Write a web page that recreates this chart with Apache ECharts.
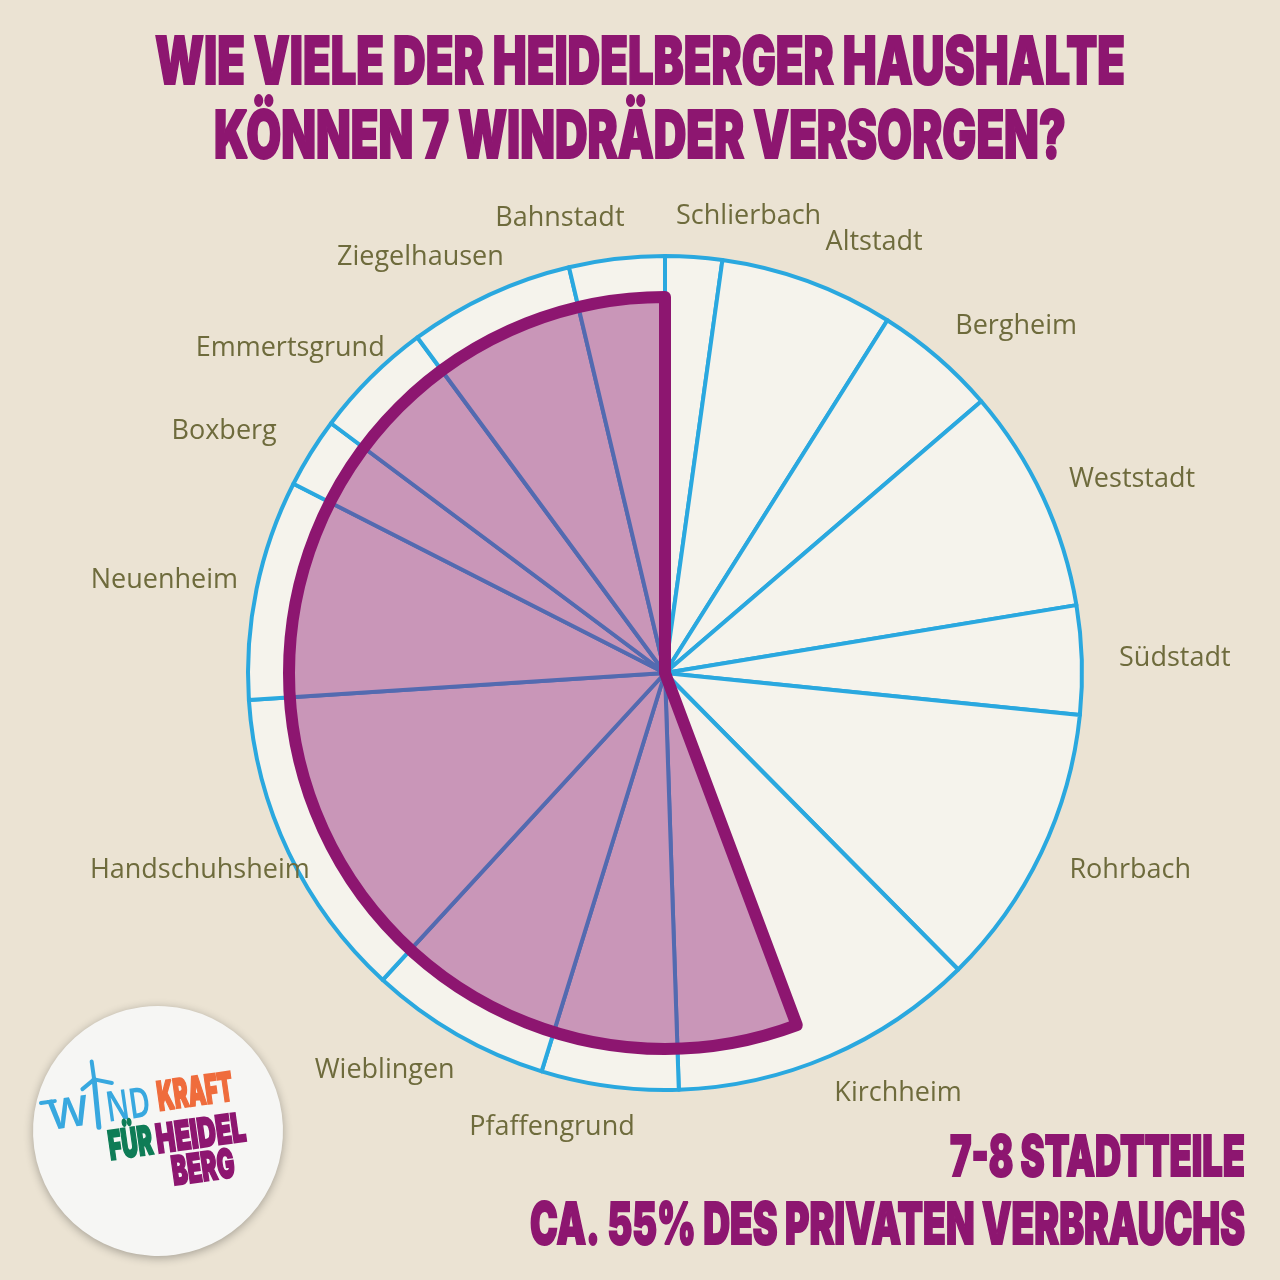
<!DOCTYPE html>
<html>
<head>
<meta charset="utf-8">
<script src="https://cdn.jsdelivr.net/npm/echarts@6/dist/echarts.min.js"></script>
<style>
html, body { margin: 0; padding: 0; background: #ebe3d3; }
#chart { width: 1280px; height: 1280px; }
</style>
</head>
<body>
<div id="chart"></div>
<script>
// Stadtteile im Uhrzeigersinn ab 12 Uhr
var districts = ['Schlierbach', 'Altstadt', 'Bergheim', 'Weststadt', 'Südstadt', 'Rohrbach', 'Kirchheim',
    'Pfaffengrund', 'Wieblingen', 'Handschuhsheim', 'Neuenheim', 'Boxberg', 'Emmertsgrund', 'Ziegelhausen', 'Bahnstadt'];
// geschätzte Haushalte je Stadtteil
var households = [1980, 6080, 4280, 7830, 3790, 9890, 10700, 4780, 6350, 10930, 7680, 2450, 4200, 5780, 3330];
// Anteil der Haushalte, den 7 Windräder versorgen (%)
var coveredPct = 55.7;
var titleLines = ['WIE VIELE DER HEIDELBERGER HAUSHALTE', 'KÖNNEN 7 WINDRÄDER VERSORGEN?'];
var resultLines = ['7-8 STADTTEILE', 'CA. 55% DES PRIVATEN VERBRAUCHS'];

var PURPLE = '#8d1670';
var BLUE = '#38a8df';
var CX = 665, CY = 673;
var HEAVY = 'Inter, Roboto, sans-serif';

var chart = echarts.init(document.getElementById('chart'));

// Mittelwinkel je Stück (für die Beschriftung)
var total = households.reduce(function(a, b) { return a + b; }, 0);
var midAngles = [];
var acc = 0;
households.forEach(function(v) {
    midAngles.push((acc + v / 2) / total * 2 * Math.PI);
    acc += v;
});

// Breite messen, damit der schmale Titel passt
var ctx = document.createElement('canvas').getContext('2d');
function fitScale(text, size, weight, family, width) {
    ctx.font = weight + ' ' + size + 'px ' + family;
    return width / ctx.measureText(text).width;
}

function heavyText(text, x, y, size, width, align, color) {
    return {
        type: 'text',
        x: x, y: y,
        scaleX: fitScale(text, size, 900, HEAVY, width),
        style: {
            text: text,
            fontFamily: HEAVY,
            fontWeight: 900,
            fontSize: size,
            fill: color,
            stroke: color,
            lineWidth: 2,
            textAlign: align,
            textVerticalAlign: 'middle'
        }
    };
}

function windText(text, x, width) {
    return {
        type: 'text', x: x, y: -28,
        scaleX: fitScale(text, 42, 600, 'Noto Sans', width),
        style: { text: text, fontFamily: 'Noto Sans', fontWeight: 600, fontSize: 42, fill: BLUE,
            textAlign: 'left', textVerticalAlign: 'middle' }
    };
}

var pieData = districts.map(function(name, i) {
    return { name: name, value: households[i] };
});

var option = {
    backgroundColor: '#ebe3d3',
    animation: false,
    graphic: [
        heavyText(titleLines[0], 640, 64, 66, 970, 'center', PURPLE),
        heavyText(titleLines[1], 640, 138, 66, 852, 'center', PURPLE),
        heavyText(resultLines[0], 1245, 1159, 56, 295, 'right', PURPLE),
        heavyText(resultLines[1], 1245, 1227, 58, 715, 'right', PURPLE),
        {
            // Logo-Aufkleber
            type: 'group',
            x: 158, y: 1131,
            rotation: 0.14,
            children: [
                {
                    type: 'circle',
                    shape: { cx: 0, cy: 0, r: 125 },
                    style: { fill: '#f6f6f4', shadowBlur: 10, shadowColor: 'rgba(0,0,0,0.3)', shadowOffsetY: 2 }
                },
                windText('W', -106, 40),
                windText('ND', -48, 44),
                {
                    type: 'polyline',
                    shape: { points: [[-112, -44], [-98, -44]] },
                    style: { stroke: BLUE, lineWidth: 4, lineCap: 'round', fill: null }
                },
                {
                    // Windrad als "I"
                    type: 'polyline',
                    shape: { points: [[-56, -60], [-58, -12]] },
                    style: { stroke: BLUE, lineWidth: 5, lineCap: 'round', fill: null }
                },
                {
                    type: 'polyline',
                    shape: { points: [[-56, -78], [-56, -60], [-69, -52]] },
                    style: { stroke: BLUE, lineWidth: 4, lineCap: 'round', lineJoin: 'round', fill: null }
                },
                {
                    type: 'polyline',
                    shape: { points: [[-56, -60], [-39, -54]] },
                    style: { stroke: BLUE, lineWidth: 4, lineCap: 'round', fill: null }
                },
                heavyText('KRAFT', 4, -32, 40, 76, 'left', '#ef6c3c'),
                heavyText('FÜR', -51, 10, 40, 44, 'left', '#0e7c56'),
                heavyText('HEIDEL', -3, 10, 40, 90, 'left', PURPLE),
                heavyText('BERG', 8, 44, 40, 63, 'left', PURPLE)
            ]
        }
    ],
    series: [
        {
            name: 'Haushalte',
            type: 'pie',
            center: [CX, CY],
            radius: [0, 417],
            startAngle: 90,
            clockwise: true,
            avoidLabelOverlap: false,
            silent: true,
            emphasis: { disabled: true },
            itemStyle: {
                color: '#f5f3ec',
                borderColor: '#2aa8df',
                borderWidth: 4
            },
            label: {
                show: true,
                position: 'outside',
                formatter: '{b}',
                color: '#6e6b3c',
                fontFamily: 'Open Sans',
                fontSize: 27
            },
            labelLine: { show: false },
            labelLayout: function(p) {
                var a = midAngles[p.dataIndex];
                var s = Math.sin(a), c = Math.cos(a);
                return {
                    x: CX + 458 * s + 52 * (s < 0 ? -1 : 1),
                    y: CY - 458 * c,
                    align: 'center',
                    verticalAlign: 'middle'
                };
            },
            data: pieData
        },
        {
            // versorgter Anteil, gegen den Uhrzeigersinn ab 12 Uhr
            name: 'Versorgt',
            type: 'pie',
            center: [CX, CY],
            radius: [0, 376],
            startAngle: 90,
            clockwise: false,
            silent: true,
            emphasis: { disabled: true },
            label: { show: false },
            labelLine: { show: false },
            data: [
                {
                    name: 'versorgt',
                    value: coveredPct,
                    itemStyle: {
                        color: 'rgba(141,22,112,0.42)',
                        borderColor: PURPLE,
                        borderWidth: 12,
                        borderJoin: 'round'
                    }
                },
                {
                    name: 'rest',
                    value: 100 - coveredPct,
                    itemStyle: { color: 'rgba(0,0,0,0)', borderWidth: 0 }
                }
            ]
        }
    ]
};

chart.setOption(option);

window.addEventListener('resize', function() {
    chart.resize();
});
</script>
</body>
</html>
